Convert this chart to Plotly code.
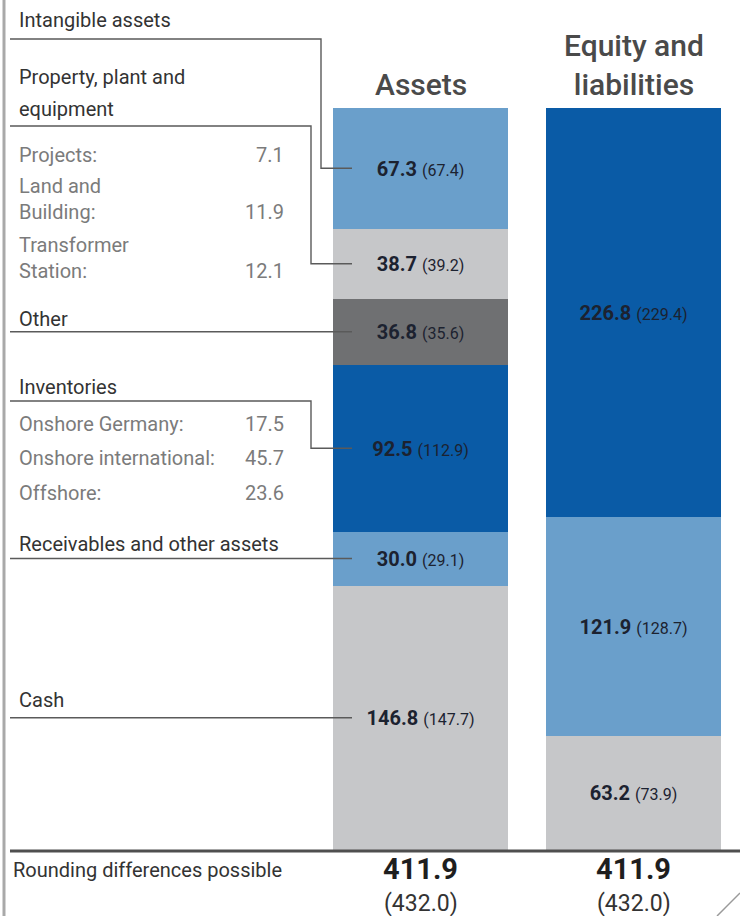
import plotly.graph_objects as go

# ---------------- data ----------------
asset_labels = ["Intangible assets", "Property, plant and equipment", "Other",
                "Inventories", "Receivables and other assets", "Cash"]
asset_values = [67.3, 38.7, 36.8, 92.5, 30.0, 146.8]
asset_prev = [67.4, 39.2, 35.6, 112.9, 29.1, 147.7]
asset_colors = ["#6a9fcb", "#c6c7c9", "#6f7072", "#0a5ba6", "#6a9fcb", "#c6c7c9"]

equity_labels = ["Equity", "Non-current liabilities", "Current liabilities"]
equity_values = [226.8, 121.9, 63.2]
equity_prev = [229.4, 128.7, 73.9]
equity_colors = ["#0a5ba6", "#6a9fcb", "#c6c7c9"]

categories = ["Assets", "Equity and liabilities"]
total_now = [411.9, 411.9]
total_prev = [432.0, 432.0]

ppe_items = ["Projects:", "Land and<br>Building:", "Transformer<br>Station:"]
ppe_values = [7.1, 11.9, 12.1]
inv_items = ["Onshore Germany:", "Onshore international:", "Offshore:"]
inv_values = [17.5, 45.7, 23.6]

# ---------------- geometry helpers (pixel -> axis units) ----------------
W, H = 740, 916
BASE_PX = 850           # pixel row of value 0
TOP_PX = 108            # pixel row of the stack top
S = (BASE_PX - TOP_PX) / max(total_now)   # pixels per unit
CX0, DX = 420.5, 213.0  # centre pixel of first category, spacing


def ypx(p):
    return (BASE_PX - p) / S


def xpx(p):
    return (p - CX0) / DX


FONT = "Roboto"
DARK = "#333333"
GREY = "#7b7b7b"
LINE = "#5a5a5a"
LBL = 20

fig = go.Figure()


def seg_text(v, p):
    return f"<b>{v:.1f}</b> <span style='font-size:16px'>({p:.1f})</span>"


def add_stack(cat, labels, values, prev, colors):
    # first trace ends up at the bottom of the stack
    for lab, v, p, c in reversed(list(zip(labels, values, prev, colors))):
        fig.add_trace(go.Bar(x=[cat], y=[v], name=lab, marker=dict(color=c, line=dict(width=0)),
                             text=[seg_text(v, p)], texttemplate="%{text}", textposition="inside",
                             insidetextanchor="middle", textangle=0, constraintext="none",
                             textfont=dict(family=FONT, size=20, color="#1c2230"),
                             width=175 / DX, showlegend=False, hoverinfo="skip"))


add_stack(categories[0], asset_labels, asset_values, asset_prev, asset_colors)
add_stack(categories[1], equity_labels, equity_values, equity_prev, equity_colors)

# segment centres of the asset stack (from the data)
centres = []
top = sum(asset_values)
for v in asset_values:
    centres.append(top - v / 2)
    top -= v

# leader lines: (label line pixel row, elbow pixel x or None)
label_rows = [39, 126, 334, 401, 561, 717]
elbows = [321, 311, None, 311, None, None]
DOT_X = 352
shapes = []
dot_x, dot_y = [], []
for row, elb, cy in zip(label_rows, elbows, centres):
    if elb is None:
        path = f"M {xpx(10)},{cy} L {xpx(DOT_X)},{cy}"
    else:
        path = (f"M {xpx(10)},{ypx(row)} L {xpx(elb)},{ypx(row)} "
                f"L {xpx(elb)},{cy} L {xpx(DOT_X)},{cy}")
    shapes.append(dict(type="path", path=path, xref="x", yref="y",
                       line=dict(color=LINE, width=1.4)))
    dot_x.append(xpx(DOT_X))
    dot_y.append(cy)

fig.add_trace(go.Scatter(x=dot_x, y=dot_y, mode="markers",
                         marker=dict(size=6, color=LINE), showlegend=False, hoverinfo="skip"))

# frame decorations
shapes.append(dict(type="line", xref="paper", yref="paper", x0=4 / W, x1=4 / W, y0=0, y1=1,
                   line=dict(color="#a9a9a9", width=3)))
shapes.append(dict(type="line", xref="paper", yref="y", x0=10 / W, x1=1, y0=ypx(851), y1=ypx(851),
                   line=dict(color="#4f4f4f", width=3)))
shapes.append(dict(type="line", xref="paper", yref="paper", x0=717 / W, x1=1,
                   y0=0, y1=1 - 893 / H, line=dict(color="#9a9a9a", width=1.5)))

annotations = []


def txt(text, px, py, size, color, anchor="left", bold=False, weight=None):
    annotations.append(dict(text=f"<b>{text}</b>" if bold else text, x=px / W, y=1 - py / H,
                            xref="paper", yref="paper", xanchor=anchor, yanchor="middle",
                            showarrow=False, align=anchor if anchor != "center" else "center",
                            font=dict(family=FONT, size=size, color=color,
                                      **({"weight": weight} if weight else {}))))


# main labels
txt("Intangible assets", 17, 20, LBL, DARK)
txt("Property, plant and", 17, 77, LBL, DARK)
txt("equipment", 17, 109, LBL, DARK)
txt("Other", 17, 319, LBL, DARK)
txt("Inventories", 17, 387, LBL, DARK)
txt("Receivables and other assets", 17, 544, LBL, DARK)
txt("Cash", 17, 700, LBL, DARK)

# PPE details
for item, v, py in zip(ppe_items, ppe_values, [155, 199, 258]):
    txt(item, 17, py, LBL, GREY)
    txt(f"{v:.1f}", 286, py + (13 if "<br>" in item else 0), LBL, GREY, anchor="right")
# inventory details
for item, v, py in zip(inv_items, inv_values, [424, 458, 493]):
    txt(item, 17, py, LBL, GREY)
    txt(f"{v:.1f}", 286, py, LBL, GREY, anchor="right")

# headers
txt("Assets", CX0, 85, 30, "#4a4a4a", anchor="center", weight=500)
txt("Equity and<br>liabilities", CX0 + DX, 65, 30, "#4a4a4a", anchor="center", weight=500)

# totals
txt("Rounding differences possible", 11, 870, LBL, DARK)
for i in range(2):
    txt(f"{total_now[i]:.1f}", CX0 + i * DX, 869, 29, "#1e1e1e", anchor="center", bold=True)
    txt(f"({total_prev[i]:.1f})", CX0 + i * DX, 903, 23, DARK, anchor="center")

fig.update_layout(
    width=W, height=H, margin=dict(l=0, r=0, t=0, b=0),
    paper_bgcolor="white", plot_bgcolor="white",
    barmode="stack", bargap=0,
    xaxis=dict(type="category", categoryorder="array", categoryarray=categories,
               range=[xpx(0), xpx(W)], visible=False, fixedrange=True),
    yaxis=dict(range=[ypx(H), ypx(0)], visible=False, fixedrange=True),
    shapes=shapes, annotations=annotations, showlegend=False,
    font=dict(family=FONT),
)

fig.write_html("out.html", config={"displayModeBar": False})
